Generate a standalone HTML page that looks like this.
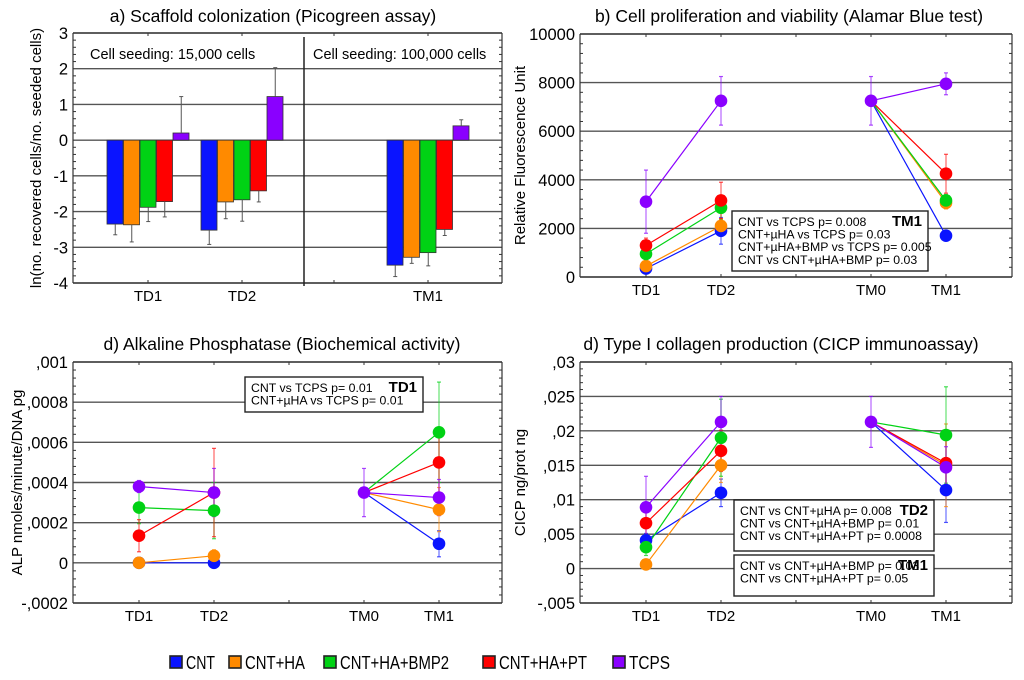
<!DOCTYPE html>
<html><head><meta charset="utf-8"><style>
body{margin:0;background:#fff;}
svg{display:block;font-family:"Liberation Sans",sans-serif;}
</style></head><body>
<svg id="s" width="1024" height="680" viewBox="0 0 1024 680" xmlns="http://www.w3.org/2000/svg"></svg>
<script>
// ---------- data ----------
const seriesNames = ["CNT","CNT+HA","CNT+HA+BMP2","CNT+HA+PT","TCPS"];
const colors = ["#0a14ff","#ff8a00","#00d214","#ff0000","#8a00ff"];
// panel a (bars)
const aCats = ["TD1","TD2","TM1"];
const aVals = [[-2.35,-2.37,-1.88,-1.72,0.2],[-2.52,-1.73,-1.67,-1.42,1.22],[-3.5,-3.28,-3.15,-2.5,0.4]];
const aErrs = [[0.3,0.48,0.4,0.43,1.02],[0.4,0.47,0.6,0.31,0.81],[0.32,0.17,0.37,0.17,0.17]];
const aTicks = ["-4","-3","-2","-1","0","1","2","3"];
// panel b
const timeCats = ["TD1","TD2","TM0","TM1"];
const bTD1 = [350,450,950,1300,3100];
const bTD2 = [1900,2100,2850,3150,7250];
const bTM0 = 7250;
const bTM1 = [1700,3050,3150,4250,7950];
const bErrTD1 = [150,150,250,300,1300];
const bErrTD2 = [550,300,500,750,1000];
const bErrTM0 = 1000;
const bErrTM1 = [200,250,250,800,450];
const bTicks = ["0","2000","4000","6000","8000","10000"];
// panel c
const cTD1 = [0,0,0.000275,0.000135,0.00038];
const cTD2 = [0,0.000035,0.00026,0.00035,0.00035];
const cTM0 = 0.00035;
const cTM1 = [0.000095,0.000265,0.00065,0.0005,0.000325];
const cErrTD1 = [0.00002,0.00002,0.00008,0.00008,0.00003];
const cErrTD2 = [0.00002,0.00003,0.00014,0.00022,0.00012];
const cErrTM0 = 0.00012;
const cErrTM1 = [0.000065,0.00011,0.00025,0.00017,0.00009];
const cTicks = ["-,0002","0",",0002",",0004",",0006",",0008",",001"];
// panel d
const dTD1 = [0.0041,0.0006,0.0031,0.0066,0.0089];
const dTD2 = [0.011,0.015,0.019,0.0171,0.0213];
const dTM0 = 0.0213;
const dTM1 = [0.0114,0.015,0.0194,0.0153,0.0147];
const dErrTD1 = [0.001,0.0005,0.0012,0.0028,0.0045];
const dErrTD2 = [0.002,0.0025,0.0056,0.003,0.0037];
const dErrTM0 = 0.0037;
const dErrTM1 = [0.0047,0.006,0.007,0.0035,0.003];
const dTicks = ["-,005","0",",005",",01",",015",",02",",025",",03"];

// ---------- helpers ----------
const S=document.getElementById('s');const NS="http://www.w3.org/2000/svg";
function mk(tag,attrs,parent){const e=document.createElementNS(NS,tag);for(const k in attrs)e.setAttribute(k,attrs[k]);(parent||S).appendChild(e);return e;}
function txt(x,y,t,attrs,parent){const e=mk('text',Object.assign({x:x,y:y},attrs||{}),parent);e.textContent=t;return e;}
function lin(y0,y1,p0,p1){return v=>p0+(v-y0)/(y1-y0)*(p1-p0);}

function frame(g,L,R,T,B,ys,ticks,yAt,xTicks,title,titleX,titleY,ylab,ylabX){
  ticks.forEach((t,i)=>{const y=yAt(ys[i]);
    const gl=mk('line',{x1:L,x2:R,y1:y,y2:y,stroke:'#555','stroke-width':1.4},g);
    
    const tl=txt(L-5,y+6,t,{'text-anchor':'end','font-size':16.5},g);
    
  });
  for(let i=0;i<ys.length-1;i++){for(let k=1;k<5;k++){const y=yAt(ys[i]+(ys[i+1]-ys[i])*k/5);
    mk('line',{x1:L,x2:L+3,y1:y,y2:y,stroke:'#333','stroke-width':1},g);
    mk('line',{x1:R-3,x2:R,y1:y,y2:y,stroke:'#333','stroke-width':1},g);}}
  mk('line',{x1:L,x2:R,y1:T,y2:T,stroke:'#333','stroke-width':1.2},g);
  mk('line',{x1:L,x2:R,y1:B,y2:B,stroke:'#333','stroke-width':1.2},g);
  mk('line',{x1:L,x2:L,y1:T,y2:B,stroke:'#333','stroke-width':1.2},g);
  mk('line',{x1:R,x2:R,y1:T,y2:B,stroke:'#333','stroke-width':1.2},g);
  xTicks.forEach(x=>{mk('line',{x1:x,x2:x,y1:B-3,y2:B,stroke:'#333'},g);mk('line',{x1:x,x2:x,y1:T,y2:T+3,stroke:'#333'},g);});
  const tt=txt(titleX,titleY,title,{'text-anchor':'middle','font-size':17.5},g);
  
  const yl=txt(0,0,ylab,{'text-anchor':'middle','font-size':15,transform:`translate(${ylabX},${(T+B)/2}) rotate(-90)`},g);
  
}

// ---------- panel a ----------
(function(){
  const g=mk('g',{});
  const L=73,R=502,T=33,B=283;const y=lin(-4,3,B,T);
  const centers=[148,242,428];
  frame(g,L,R,T,B,[-4,-3,-2,-1,0,1,2,3],aTicks,y,[148,242,334,428],"a) Scaffold colonization (Picogreen assay)",273,22,"ln(no. recovered cells/no. seeded cells)",41);
  mk('line',{x1:304,x2:304,y1:37,y2:286,stroke:'#222','stroke-width':1.5},g);
  txt(90,59,"Cell seeding: 15,000 cells",{'font-size':14.5},g);
  txt(313,59,"Cell seeding: 100,000 cells",{'font-size':14.5},g);
  const bw=16.5;
  aCats.forEach((c,ci)=>{
    aVals[ci].forEach((v,si)=>{
      const x=centers[ci]-41+si*bw;
      const y0=y(0),y1=y(v);
      const r=mk('rect',{x:x,y:Math.min(y0,y1),width:bw-0.5,height:Math.abs(y1-y0),fill:colors[si],stroke:'#333','stroke-width':0.8},g);
      
      const e=v<0?v-aErrs[ci][si]:v+aErrs[ci][si];const cx=x+bw/2;
      mk('line',{x1:cx,x2:cx,y1:y1,y2:y(e),stroke:'#555','stroke-width':1},g);
      mk('line',{x1:cx-2,x2:cx+2,y1:y(e),y2:y(e),stroke:'#555','stroke-width':1},g);
    });
    const xl=txt(centers[ci],301,c,{'text-anchor':'middle','font-size':15},g);
    
  });
})();

// ---------- line panels ----------
function linePanel(name,L,R,T,B,yMin,yMax,yStops,ticks,title,titleX,titleY,ylab,ylabX,td1,td2,tm0,tm1,e1,e2,e0,e4,labY){
  const g=mk('g',{});
  const y=lin(yMin,yMax,B,T);
  const x=lin(1,5,L+66,L+366);
  const xs=[x(1),x(2),x(4),x(5)];
  frame(g,L,R,T,B,yStops,ticks,y,[x(1),x(2),x(3),x(4),x(5)],title,titleX,titleY,ylab,ylabX);
  timeCats.forEach((c,i)=>{const t=txt(xs[i],labY,c,{'text-anchor':'middle','font-size':15},g);
    });
  const lines=mk('g',{},g),errs=mk('g',{},g),pts=mk('g',{},g);
  function eb(cx,v,e,col){mk('line',{x1:cx,x2:cx,y1:y(v-e),y2:y(v+e),stroke:col,'stroke-width':1.2,opacity:0.6},errs);
    [v-e,v+e].forEach(w=>mk('line',{x1:cx-2,x2:cx+2,y1:y(w),y2:y(w),stroke:col,'stroke-width':1.2,opacity:0.7},errs));}
  for(let si=0;si<5;si++){
    const col=colors[si];
    const l1=mk('line',{x1:xs[0],y1:y(td1[si]),x2:xs[1],y2:y(td2[si]),stroke:col,'stroke-width':1.2},lines);
    
    const l2=mk('line',{x1:xs[2],y1:y(tm0),x2:xs[3],y2:y(tm1[si]),stroke:col,'stroke-width':1.2},lines);
    
    eb(xs[0],td1[si],e1[si],col);eb(xs[1],td2[si],e2[si],col);eb(xs[3],tm1[si],e4[si],col);
  }
  eb(xs[2],tm0,e0,colors[4]);
  for(let si=0;si<5;si++){
    const p1=mk('circle',{cx:xs[0],cy:y(td1[si]),r:6.3,fill:colors[si]},pts);
    
    const p2=mk('circle',{cx:xs[1],cy:y(td2[si]),r:6.3,fill:colors[si]},pts);
    
    const p4=mk('circle',{cx:xs[3],cy:y(tm1[si]),r:6.3,fill:colors[si]},pts);
    
  }
  const p0=mk('circle',{cx:xs[2],cy:y(tm0),r:6.3,fill:colors[4]},pts);
  
  return g;
}
function statBox(g,x,y,w,h,tag,lines,fs){
  const b=mk('g',{},g);
  mk('rect',{x:x,y:y,width:w,height:h,fill:'#fff',stroke:'#222','stroke-width':1.4},b);
  txt(x+w-6,y+15,tag,{'text-anchor':'end','font-size':15,'font-weight':'bold'},b);
  lines.forEach((t,i)=>txt(x+6,y+15+i*12.6,t,{'font-size':fs||12.3},b));
}

const gb=linePanel('panel-b-alamar-blue',580,1012,34,277,0,10000,[0,2000,4000,6000,8000,10000],bTicks,"b) Cell proliferation and viability (Alamar Blue test)",789,22,"Relative Fluorescence Unit",525,bTD1,bTD2,bTM0,bTM1,bErrTD1,bErrTD2,bErrTM0,bErrTM1,295);
statBox(gb,732,211,196,60,"TM1",["CNT vs TCPS  p= 0.008","CNT+µHA vs TCPS  p= 0.03","CNT+µHA+BMP vs TCPS p= 0.005","CNT vs CNT+µHA+BMP p= 0.03"]);

const gc=linePanel('panel-c-alkaline-phosphatase',73,502,362,603,-0.0002,0.001,[-0.0002,0,0.0002,0.0004,0.0006,0.0008,0.001],cTicks,"d) Alkaline Phosphatase (Biochemical activity)",282,350,"ALP nmoles/minute/DNA pg",22,cTD1,cTD2,cTM0,cTM1,cErrTD1,cErrTD2,cErrTM0,cErrTM1,621);
statBox(gc,245,377,178,35,"TD1",["CNT vs TCPS  p= 0.01","CNT+µHA vs TCPS p= 0.01"]);

const gd=linePanel('panel-d-collagen',580,1012,362,603,-0.005,0.03,[-0.005,0,0.005,0.01,0.015,0.02,0.025,0.03],dTicks,"d) Type I collagen production (CICP immunoassay)",781,350,"CICP ng/prot ng",525,dTD1,dTD2,dTM0,dTM1,dErrTD1,dErrTD2,dErrTM0,dErrTM1,621);
statBox(gd,734,500,200,51,"TD2",["CNT vs CNT+µHA  p= 0.008","CNT vs CNT+µHA+BMP p= 0.01","CNT vs CNT+µHA+PT p= 0.0008"]);
statBox(gd,734,555,200,41,"TM1",["CNT vs CNT+µHA+BMP p= 0.03","CNT vs CNT+µHA+PT p= 0.05"]);

// ---------- legend ----------
(function(){
  const g=mk('g',{});
  const sx=[170,229,324,483,613];const tw=[29,60,109,88,41];
  seriesNames.forEach((n,i)=>{
    const e=mk('g',{},g);
    mk('rect',{x:sx[i],y:656,width:12,height:12,fill:colors[i],stroke:'#222','stroke-width':1.6},e);
    txt(sx[i]+16,669,n,{'font-size':18,textLength:tw[i],lengthAdjust:'spacingAndGlyphs'},e);
  });
})();
</script>
</body></html>
